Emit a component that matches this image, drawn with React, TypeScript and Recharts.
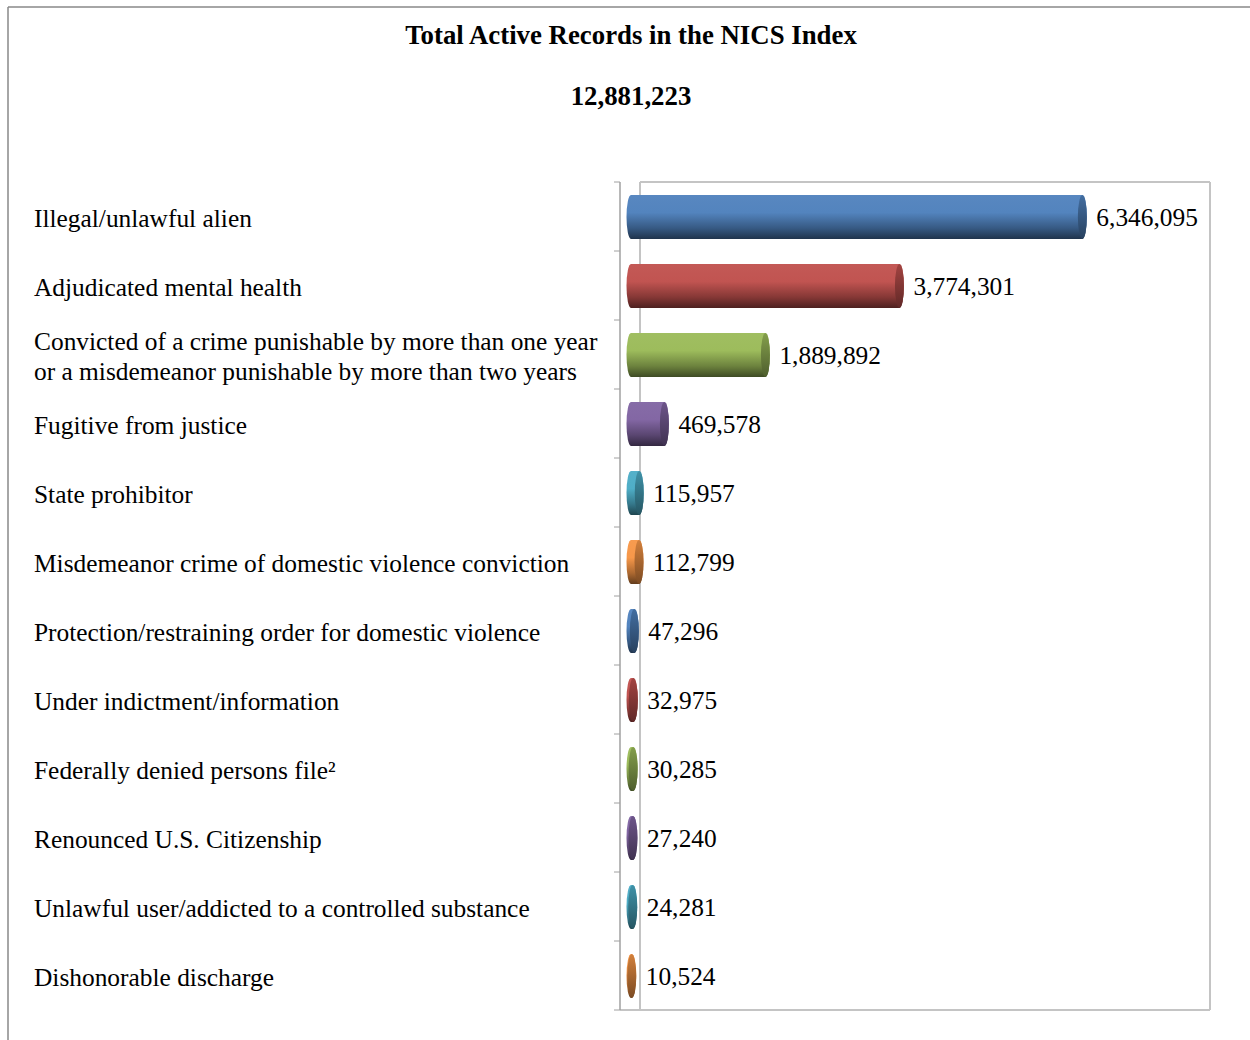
import React from "react";
import { BarChart, Bar, XAxis, YAxis, LabelList, Customized } from "recharts";

const CATEGORIES: string[] = [
  "Illegal/unlawful alien",
  "Adjudicated mental health",
  "Convicted of a crime punishable by more than one year\nor a misdemeanor punishable by more than two years",
  "Fugitive from justice",
  "State prohibitor",
  "Misdemeanor crime of domestic violence conviction",
  "Protection/restraining order for domestic violence",
  "Under indictment/information",
  "Federally denied persons file²",
  "Renounced U.S. Citizenship",
  "Unlawful user/addicted to a controlled substance",
  "Dishonorable discharge",
];

const VALUES: number[] = [
  6346095, 3774301, 1889892, 469578, 115957, 112799, 47296, 32975, 30285, 27240, 24281, 10524,
];

const TITLE = "Total Active Records in the NICS Index";
const TOTAL_LABEL = "12,881,223";

const PALETTE = ["#4F81BD", "#C0504D", "#9BBB59", "#8064A2", "#4BACC6", "#F79646"];

const data = CATEGORIES.map((name, i) => ({ name, value: VALUES[i] }));

const W = 1250;
const H = 1040;
const PLOT_TOP = 182;
const PLOT_BOTTOM = 1010;
const PLOT_LEFT = 631;
const PLOT_RIGHT = 1200;
const FRAME_LEFT = 620;
const FRAME_INNER = 640;
const FRAME_RIGHT = 1210;
const FONT = "'Liberation Serif', 'Times New Roman', serif";
const LABEL_SIZE = 25.4;

function shade(hex: string, f: number): string {
  const n = parseInt(hex.slice(1), 16);
  let r = (n >> 16) & 255, g = (n >> 8) & 255, b = n & 255;
  if (f >= 0) {
    r = r + (255 - r) * f; g = g + (255 - g) * f; b = b + (255 - b) * f;
  } else {
    r = r * (1 + f); g = g * (1 + f); b = b * (1 + f);
  }
  const h = (v: number) => Math.round(v).toString(16).padStart(2, "0");
  return "#" + h(r) + h(g) + h(b);
}

const Cylinder = (props: any) => {
  const { x, y, width, height, index } = props;
  const ci = index % PALETTE.length;
  const rx = 4.5;
  const w = Math.max(width, 0);
  const ry = height / 2;
  const d = `M ${x} ${y} L ${x + w} ${y} A ${rx} ${ry} 0 0 1 ${x + w} ${y + height} L ${x} ${y + height} A ${rx} ${ry} 0 0 1 ${x} ${y} Z`;
  return (
    <g>
      <path d={d} fill={`url(#body${ci})`} />
      <ellipse cx={x + w} cy={y + ry} rx={rx} ry={ry} fill={`url(#cap${ci})`} />
    </g>
  );
};

const CategoryTick = (props: any) => {
  const { y, payload } = props;
  const lines = String(payload.value).split("\n");
  const lh = 30;
  const start = y - ((lines.length - 1) * lh) / 2 + 1;
  return (
    <text x={34} y={start} fontFamily={FONT} fontSize={LABEL_SIZE} fill="#000" textAnchor="start" dominantBaseline="central">
      {lines.map((l, i) => (
        <tspan key={i} x={34} y={start + i * lh} dominantBaseline="central">
          {l}
        </tspan>
      ))}
    </text>
  );
};

const ValueLabel = (props: any) => {
  const { x, y, width, height, value } = props;
  return (
    <text x={x + width + 14} y={y + height / 2} fontFamily={FONT} fontSize={LABEL_SIZE} fill="#000" dominantBaseline="central">
      {Number(value).toLocaleString("en-US")}
    </text>
  );
};

const Frame = () => {
  const n = CATEGORIES.length;
  const band = (PLOT_BOTTOM - PLOT_TOP) / n;
  const ticks = Array.from({ length: n + 1 }, (_, i) => PLOT_TOP + i * band);
  const stroke = "#c4c4c4";
  return (
    <g>
      <line x1={FRAME_INNER} y1={PLOT_TOP} x2={FRAME_RIGHT} y2={PLOT_TOP} stroke={stroke} strokeWidth={2} />
      <line x1={FRAME_RIGHT} y1={PLOT_TOP} x2={FRAME_RIGHT} y2={PLOT_BOTTOM} stroke={stroke} strokeWidth={2} />
      <line x1={FRAME_LEFT} y1={PLOT_BOTTOM} x2={FRAME_RIGHT} y2={PLOT_BOTTOM} stroke={stroke} strokeWidth={2} />
      <line x1={FRAME_INNER} y1={PLOT_TOP} x2={FRAME_INNER} y2={PLOT_BOTTOM} stroke={stroke} strokeWidth={2} />
      <line x1={FRAME_LEFT} y1={PLOT_TOP} x2={FRAME_LEFT} y2={PLOT_BOTTOM} stroke="#a0a0a0" strokeWidth={1.5} />
      {ticks.map((t, i) => (
        <line key={i} x1={FRAME_LEFT - 6} y1={t} x2={FRAME_LEFT} y2={t} stroke="#a0a0a0" strokeWidth={1} />
      ))}
      <line x1={8} y1={7} x2={W} y2={7} stroke="#888" strokeWidth={1.5} />
      <line x1={8} y1={7} x2={8} y2={H} stroke="#888" strokeWidth={1.5} />
      <text x={631} y={35} textAnchor="middle" dominantBaseline="central" fontFamily={FONT} fontSize={26.8} fontWeight="bold">
        {TITLE}
      </text>
      <text x={631} y={96} textAnchor="middle" dominantBaseline="central" fontFamily={FONT} fontSize={26.8} fontWeight="bold">
        {TOTAL_LABEL}
      </text>
    </g>
  );
};

export default function App() {
  return (
    <div style={{ position: "absolute", left: 0, top: 0, width: W, height: H, background: "#fff" }}>
      <BarChart
        width={W}
        height={H}
        data={data}
        layout="vertical"
        margin={{ top: PLOT_TOP, bottom: H - PLOT_BOTTOM, left: 0, right: W - PLOT_RIGHT }}
        barSize={44}
      >
        <defs>
          {PALETTE.map((c, i) => (
            <linearGradient key={"b" + i} id={`body${i}`} x1="0" y1="0" x2="0" y2="1">
              <stop offset="0%" stopColor={shade(c, 0.05)} />
              <stop offset="40%" stopColor={shade(c, 0.02)} />
              <stop offset="75%" stopColor={shade(c, -0.3)} />
              <stop offset="100%" stopColor={shade(c, -0.6)} />
            </linearGradient>
          ))}
          {PALETTE.map((c, i) => (
            <linearGradient key={"c" + i} id={`cap${i}`} x1="0" y1="0" x2="0" y2="1">
              <stop offset="0%" stopColor={shade(c, -0.15)} />
              <stop offset="100%" stopColor={shade(c, -0.5)} />
            </linearGradient>
          ))}
        </defs>
        <Customized component={Frame} />
        <XAxis type="number" domain={[0, 8000000]} hide />
        <YAxis
          type="category"
          dataKey="name"
          width={PLOT_LEFT}
          axisLine={false}
          tickLine={false}
          tick={<CategoryTick />}
          interval={0}
        />
        <Bar dataKey="value" shape={<Cylinder />} isAnimationActive={false}>
          <LabelList dataKey="value" content={<ValueLabel />} />
        </Bar>
      </BarChart>
    </div>
  );
}
